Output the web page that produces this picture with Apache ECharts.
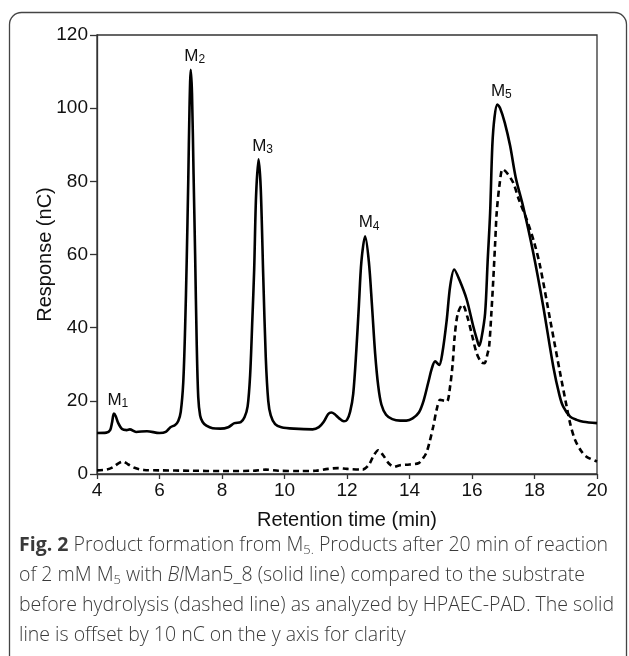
<!DOCTYPE html>
<html>
<head>
<meta charset="utf-8">
<script src="https://cdn.jsdelivr.net/npm/echarts@6/dist/echarts.min.js"></script>
<style>
html,body{margin:0;padding:0;background:#fff;}
#chart{width:629px;height:656px;}
</style>
</head>
<body>
<div id="chart"></div>
<script>
// Product after hydrolysis (solid line, offset +10 nC)
const solidTime = [4.0,4.3,4.42,4.48,4.54,4.60,4.68,4.80,4.95,5.05,5.25,5.6,6.0,6.2,6.35,6.5,6.6,6.68,6.76,6.82,6.87,6.92,6.96,7.00,7.04,7.09,7.14,7.19,7.24,7.30,7.38,7.5,7.7,7.95,8.2,8.4,8.6,8.72,8.82,8.9,8.97,9.03,9.09,9.17,9.24,9.32,9.40,9.48,9.56,9.7,9.9,10.3,10.9,11.1,11.25,11.4,11.5,11.6,11.75,11.9,12.0,12.1,12.2,12.3,12.38,12.46,12.58,12.7,12.8,12.9,13.0,13.1,13.25,13.45,13.7,13.9,14.1,14.3,14.45,14.6,14.72,14.82,14.95,15.05,15.19,15.3,15.43,15.6,15.83,16.04,16.15,16.23,16.3,16.42,16.5,16.58,16.65,16.72,16.81,16.9,17.05,17.22,17.4,17.64,17.96,18.28,18.6,18.8,18.92,19.14,19.35,19.56,20.0];
const solidResp = [11.2,11.3,12.0,14.0,16.5,15.8,13.9,12.3,12.0,12.2,11.5,11.7,11.2,11.5,12.8,13.4,14.5,17,25,40,58,80,100,110.5,104,82,60,36,21,16,14.2,13.2,12.5,12.4,12.8,13.9,14.2,15.5,18.5,27,42,56,76,86,78,54,32,20,16,13.6,12.8,12.4,12.2,12.8,14.2,16.4,16.8,16.4,15.2,14.4,14.8,17,22,34,46,58,65,58,46,33,24,19,16.2,15,14.6,14.6,15.2,16.8,20,25,29,30.8,29.8,33,42,51.3,55.9,53,47.7,40.4,37,35,37,44,58,71.4,89.7,97.5,101,100,96,89.7,81,73,60.5,45.8,29.4,21.5,18.4,15.7,14.8,14.3,13.9];

// Substrate before hydrolysis (dashed line)
const dashTime = [4.0,4.3,4.5,4.7,4.84,5.0,5.2,5.5,6.0,7.0,8.0,9.0,9.4,9.8,10.5,11.0,11.4,11.7,12.0,12.5,12.7,12.85,13.0,13.15,13.35,13.5,13.7,14.0,14.3,14.45,14.55,14.65,14.76,14.88,14.98,15.1,15.2,15.3,15.38,15.45,15.55,15.7,15.85,16.0,16.15,16.3,16.4,16.5,16.55,16.62,16.68,16.74,16.79,16.88,16.98,17.1,17.32,17.5,17.75,18.0,18.18,18.5,18.82,19.03,19.15,19.3,19.5,19.67,20.0];
const dashResp = [1.0,1.2,1.8,3.0,3.4,2.6,1.7,1.1,1.0,0.9,0.8,0.9,1.2,0.9,0.8,0.9,1.4,1.6,1.4,1.2,2.5,5,6.5,5.2,2.8,2.0,2.4,2.6,3.0,4.5,6,9,13,18,20.3,20,19.8,24,30,38,44,46.3,43,38,33,30.5,30.3,33,35,44,53,63,71.4,79,83.3,82.5,79.6,75,69.6,63,56.8,42.2,27.6,18.4,13.5,9.3,6.2,4.7,3.4];

// Peak labels
const peakSubs = ['1','2','3','4','5'];
const peakTime = [4.54,7.00,9.17,12.58,16.81];
const peakResp = [16.5,110.5,86,65,101];

// Axis ticks
const xTicks = {min:4, max:20, step:2};
const yTicks = {min:0, max:120, step:20};

const captionLines = [
  '{b|Fig. 2}{n| Product formation from M}{s|5.}{n| Products after 20 min of reaction}',
  '{n|of 2 mM M}{s|5}{n| with }{i|Bl}{n|Man5_8 (solid line) compared to the substrate}',
  '{n|before hydrolysis (dashed line) as analyzed by HPAEC-PAD. The solid}',
  '{n|line is offset by 10 nC on the y axis for clarity}'
];

const pair = (xs, ys) => xs.map((x, i) => [x, ys[i]]);
const axisFont = 'Liberation Sans, Arial, sans-serif';
const capFont = 'Open Sans, Noto Sans, sans-serif';

const chart = echarts.init(document.getElementById('chart'), null, {renderer:'canvas'});

const capRich = {
  n:{fontFamily:capFont, fontSize:19.5, fontWeight:300, lineHeight:22, verticalAlign:'top', color:'#3a3a3a'},
  b:{fontFamily:capFont, fontSize:19.5, lineHeight:22, verticalAlign:'top', fontWeight:'bold', color:'#2a2a2a'},
  i:{fontFamily:capFont, fontSize:19.5, fontWeight:300, lineHeight:22, verticalAlign:'top', fontStyle:'italic', color:'#3a3a3a'},
  s:{fontFamily:capFont, fontSize:13, fontWeight:300, lineHeight:13, padding:[9,0,0,0], verticalAlign:'bottom', color:'#3a3a3a'}
};

const graphics = [
  {type:'rect', shape:{x:9.5, y:12.5, width:617, height:700, r:12}, style:{fill:'none', stroke:'#444', lineWidth:1.3}, silent:true}
];
captionLines.forEach((t, k) => {
  graphics.push({type:'text', left:19, top:535 + k*30, style:{text:t, rich:capRich, fill:'#3a3a3a'}});
});

chart.setOption({
  animation:false,
  backgroundColor:'#fff',
  grid:{left:97, right:32, top:35, bottom:182, show:true, borderColor:'#333', borderWidth:1.3, backgroundColor:'transparent'},
  xAxis:{
    type:'value', min:xTicks.min, max:xTicks.max, interval:xTicks.step,
    name:'Retention time (min)', nameLocation:'middle', nameGap:36, nameMoveOverlap:false,
    nameTextStyle:{fontFamily:axisFont, fontSize:20, color:'#111'},
    axisLine:{show:true, onZero:false, lineStyle:{color:'#333', width:1.3}},
    axisTick:{show:true, inside:false, length:5, lineStyle:{color:'#333', width:1.3}},
    axisLabel:{fontFamily:axisFont, fontSize:19, color:'#111', margin:7},
    splitLine:{show:false}
  },
  yAxis:{
    type:'value', min:yTicks.min, max:yTicks.max, interval:yTicks.step,
    name:'Response (nC)', nameLocation:'middle', nameGap:42, nameMoveOverlap:false,
    nameTextStyle:{fontFamily:axisFont, fontSize:20, color:'#111'},
    axisLine:{show:true, onZero:false, lineStyle:{color:'#333', width:1.3}},
    axisTick:{show:true, inside:false, length:7, lineStyle:{color:'#333', width:1.3}},
    axisLabel:{fontFamily:axisFont, fontSize:19, color:'#111', margin:9},
    splitLine:{show:false}
  },
  series:[
    {
      name:'substrate', type:'line', data:pair(dashTime, dashResp), showSymbol:false, smooth:0.3,
      lineStyle:{color:'#000', width:2.6, type:[6,4]}, z:2
    },
    {
      name:'product', type:'line', data:pair(solidTime, solidResp), showSymbol:false, smooth:0.3,
      lineStyle:{color:'#000', width:2.6}, z:3,
      markPoint:{
        symbol:'circle', symbolSize:0, silent:true,
        label:{show:true, position:'top', distance:4, offset:[4,0],
          rich:{
            m:{fontFamily:axisFont, fontSize:17, lineHeight:18, verticalAlign:'top', color:'#111'},
            s:{fontFamily:axisFont, fontSize:12, lineHeight:12, padding:[8,0,0,0], verticalAlign:'bottom', color:'#111'}
          }
        },
        data: peakSubs.map((s, i) => ({coord:[peakTime[i], peakResp[i]], label:{formatter:'{m|M}{s|' + s + '}'}}))
      }
    }
  ],
  graphic: graphics
});
</script>
</body>
</html>
